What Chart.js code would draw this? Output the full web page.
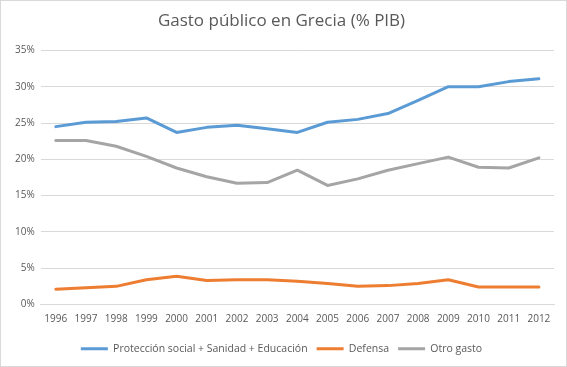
<!DOCTYPE html>
<html><head><meta charset="utf-8">
<script src="https://cdn.jsdelivr.net/npm/chart.js@4"></script>
<style>
html,body{margin:0;padding:0;background:#fff;}
#wrap{position:absolute;left:0;top:0;width:565px;height:365px;border:1px solid #d9d9d9;}
</style></head>
<body><div id="wrap"><canvas id="c" width="565" height="365"></canvas></div>
<script>
const years = ["1996","1997","1998","1999","2000","2001","2002","2003","2004","2005","2006","2007","2008","2009","2010","2011","2012"];
const socialHealthEducation = [24.5,25.1,25.2,25.7,23.7,24.4,24.7,24.2,23.7,25.1,25.5,26.3,28.1,30.0,30.0,30.7,31.1];
const defence = [2.1,2.3,2.5,3.4,3.9,3.3,3.4,3.4,3.2,2.9,2.5,2.6,2.9,3.4,2.4,2.4,2.4];
const otherSpending = [22.6,22.6,21.8,20.4,18.8,17.6,16.7,16.8,18.5,16.4,17.3,18.5,19.4,20.3,18.9,18.8,20.2];
const seriesNames = ["Protección social + Sanidad + Educación","Defensa","Otro gasto"];
const titleText = "Gasto público en Grecia (% PIB)";

const fontFam = "'Open Sans', 'Liberation Sans', sans-serif";
new Chart(document.getElementById('c'), {
  type: 'line',
  data: {
    labels: years,
    datasets: [
      {label: seriesNames[0], data: socialHealthEducation, borderColor:'#5B9BD5', backgroundColor:'#5B9BD5'},
      {label: seriesNames[1], data: defence, borderColor:'#ED7D31', backgroundColor:'#ED7D31'},
      {label: seriesNames[2], data: otherSpending, borderColor:'#A5A5A5', backgroundColor:'#A5A5A5'}
    ]
  },
  options: {
    responsive:false, animation:false,
    elements:{line:{borderWidth:3,tension:0,borderCapStyle:'round',borderJoinStyle:'round'},point:{radius:0}},
    layout:{padding:{left:8,right:12,top:0,bottom:2}},
    plugins:{
      title:{display:true,text:titleText,color:'#595959',font:{family:fontFam,size:17,weight:'normal'},padding:{top:10,bottom:19}},
      legend:{position:'bottom',labels:{color:'#595959',font:{family:fontFam,size:10.5},boxWidth:27,boxHeight:3,padding:9,
        generateLabels(chart){return chart.data.datasets.map((d,i)=>({text:d.label,fillStyle:d.borderColor,strokeStyle:d.borderColor,lineWidth:0,datasetIndex:i,fontColor:'#595959'}));}}},
      tooltip:{enabled:false}
    },
    scales:{
      x:{offset:true,grid:{display:false,drawTicks:false},border:{display:true,color:'#d9d9d9'},
        ticks:{color:'#595959',font:{family:fontFam,size:10},padding:9,maxRotation:0,autoSkip:false}},
      y:{min:0,max:35,grid:{color:'#d9d9d9',drawTicks:false},border:{display:false},
        ticks:{stepSize:5,color:'#595959',font:{family:fontFam,size:10},padding:6,callback:v=>v+'%'}}
    }
  }
});
</script></body></html>
